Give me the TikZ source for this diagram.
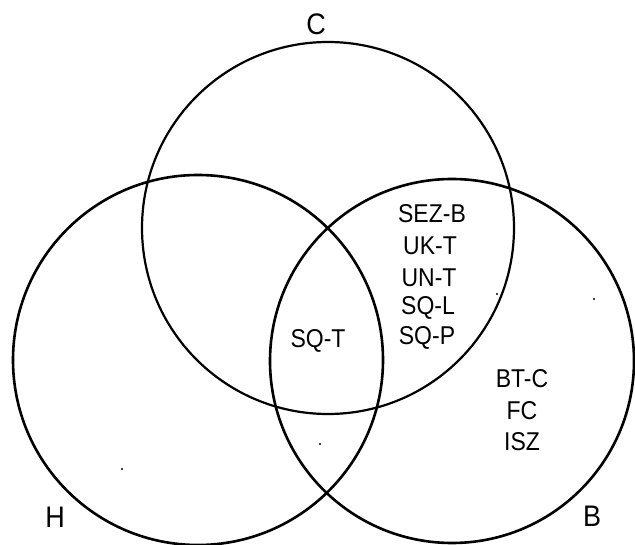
\documentclass[tikz,border=0pt]{standalone}
\usepackage{fontspec}
\setmainfont{Liberation Sans}
\begin{document}
\begin{tikzpicture}[x=1pt,y=-1pt,
  setline/.style={line width=2.6pt},
  toplabel/.style={font=\fontsize{27}{27}\selectfont, inner sep=0pt, yscale=1.1},
  item/.style={font=\fontsize{23}{23}\selectfont, inner sep=0pt, yscale=1.12},
  speck/.style={fill=black, draw=none}]
  \useasboundingbox (0,0) rectangle (635,545);
  % the three sets
  \draw[setline, line width=2.2pt] (328,228) circle[radius=186];
  \draw[setline] (198,360) circle[radius=185];
  \draw[setline] (452,361) circle[radius=182];
  % set names
  \node[toplabel] (lc) at (316,24) {C};
  \node[toplabel] (lh) at (55,517) {H};
  \node[toplabel] (lb) at (592,516) {B};
  % members of C and B only
  \node[item] (sezb) at (432,214) {SEZ-B};
  \node[item] (ukt)  at (430,246) {UK-T};
  \node[item] (unt)  at (429,278) {UN-T};
  \node[item] (sql)  at (428,308) {SQ-L};
  \node[item] (sqp)  at (427,338) {SQ-P};
  % member of all three
  \node[item] (sqt)  at (318,341) {SQ-T};
  % members of B only
  \node[item] (btc)  at (522,379) {BT-C};
  \node[item] (fc)   at (522,411) {FC};
  \node[item] (isz)  at (522,442) {ISZ};
  % small ink specks
  \fill[speck] (497,294) circle[radius=1.1];
  \fill[speck] (594,299) circle[radius=1.1];
  \fill[speck] (320,444) circle[radius=1.1];
  \fill[speck] (122,469) circle[radius=1.1];
\end{tikzpicture}
\end{document}
